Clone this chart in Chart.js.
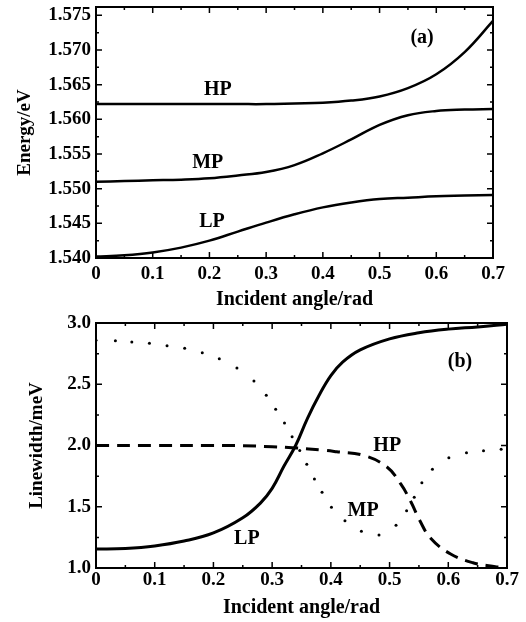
<!DOCTYPE html>
<html>
<head>
<meta charset="utf-8">
<script src="https://cdn.jsdelivr.net/npm/chart.js@4.4.1/dist/chart.umd.min.js"></script>
<style>
  body { margin: 0; background: #fff; }
  canvas { display: block; }
</style>
</head>
<body>
<canvas id="chart-a" width="526" height="310"></canvas>
<canvas id="chart-b" width="526" height="312"></canvas>
<script>
// ticks
const angleTicks = [0, 0.1, 0.2, 0.3, 0.4, 0.5, 0.6, 0.7]
const angleMinor = [0.05, 0.15, 0.25, 0.35, 0.45, 0.55, 0.65]
const energyTicks = [1.540, 1.545, 1.550, 1.555, 1.560, 1.565, 1.570, 1.575]
const energyMinor = [1.5425, 1.5475, 1.5525, 1.5575, 1.5625, 1.5675, 1.5725]
const widthTicks = [1.0, 1.5, 2.0, 2.5, 3.0]
const widthMinor = [1.25, 1.75, 2.25, 2.75]

// (a) energy
const energyAngles = [0, 0.05, 0.1, 0.15, 0.2, 0.25, 0.3, 0.35, 0.4, 0.45, 0.5, 0.55, 0.6, 0.65, 0.7]
const hpEnergy = [1.5622, 1.5622, 1.5622, 1.5622, 1.5622, 1.5622, 1.5622, 1.5623, 1.5624, 1.5627, 1.5633, 1.5645, 1.5665, 1.5697, 1.5742]
const mpEnergy = [1.5510, 1.5511, 1.5512, 1.5513, 1.5515, 1.5519, 1.5524, 1.5534, 1.5551, 1.5571, 1.5592, 1.5606, 1.5612, 1.5614, 1.5615]
const lpEnergy = [1.5402, 1.5404, 1.5408, 1.5415, 1.5425, 1.5438, 1.5451, 1.5463, 1.5473, 1.5480, 1.5485, 1.5487, 1.5489, 1.5490, 1.5491]

// (b) linewidth
const lpAngles = [0, 0.05, 0.1, 0.15, 0.2, 0.25, 0.28, 0.3, 0.32, 0.34, 0.36, 0.38, 0.4, 0.42, 0.45, 0.5, 0.55, 0.6, 0.65, 0.7]
const lpWidth = [1.155, 1.16, 1.18, 1.22, 1.286, 1.41, 1.53, 1.65, 1.83, 2.0, 2.22, 2.41, 2.57, 2.68, 2.78, 2.87, 2.92, 2.95, 2.968, 2.99]
const hpAngles = [0, 0.1, 0.2, 0.25, 0.3, 0.34, 0.385, 0.41, 0.455, 0.495, 0.519, 0.5365, 0.551, 0.57, 0.604, 0.642, 0.68, 0.69]
const hpWidth = [2.0, 2.0, 2.0, 1.998, 1.99, 1.98, 1.963, 1.949, 1.92, 1.827, 1.686, 1.539, 1.392, 1.243, 1.114, 1.043, 1.011, 1.008]
const mpAngles = [0, 0.033, 0.061, 0.091, 0.121, 0.151, 0.181, 0.21, 0.24, 0.269, 0.29, 0.306, 0.321, 0.334, 0.347, 0.359, 0.372, 0.385, 0.401, 0.424, 0.452, 0.482, 0.511, 0.529, 0.542, 0.555, 0.573, 0.601, 0.631, 0.66, 0.69]
const mpWidth = [2.86, 2.856, 2.845, 2.834, 2.815, 2.793, 2.758, 2.709, 2.633, 2.527, 2.41, 2.296, 2.184, 2.072, 1.959, 1.847, 1.727, 1.618, 1.496, 1.386, 1.30, 1.269, 1.349, 1.468, 1.577, 1.696, 1.806, 1.90, 1.941, 1.958, 1.969]

// curve labels [text, x, y]
const labelsA = [['HP', 0.215, 1.5642], ['MP', 0.197, 1.5537], ['LP', 0.2045, 1.5452], ['(a)', 0.575, 1.5718]]
const labelsB = [['(b)', 0.62, 2.68], ['HP', 0.496, 2.0], ['MP', 0.455, 1.465], ['LP', 0.257, 1.237]]

const FONT = '"Liberation Serif", "Times New Roman", serif'

function pts(xs, ys) {
    return xs.map((x, i) => ({x: x, y: ys[i]}))
}

// box + inward ticks + text labels
const framePlugin = {
    id: 'frame',
    afterDatasetsDraw(chart, args, opts) {
        const ctx = chart.ctx
        const a = chart.chartArea
        const sx = chart.scales.x, sy = chart.scales.y
        ctx.save()
        ctx.strokeStyle = '#000'
        ctx.lineWidth = 1.5
        ctx.beginPath()
        const xt = (vals, len) => vals.forEach(v => {
            const p = sx.getPixelForValue(v)
            ctx.moveTo(p, a.bottom); ctx.lineTo(p, a.bottom - len)
            ctx.moveTo(p, a.top); ctx.lineTo(p, a.top + len)
        })
        const yt = (vals, len) => vals.forEach(v => {
            const p = sy.getPixelForValue(v)
            ctx.moveTo(a.left, p); ctx.lineTo(a.left + len, p)
            ctx.moveTo(a.right, p); ctx.lineTo(a.right - len, p)
        })
        xt(opts.xMajor, 6); xt(opts.xMinor, 3)
        yt(opts.yMajor, 6); yt(opts.yMinor, 3)
        ctx.stroke()
        ctx.lineWidth = 2
        ctx.strokeRect(a.left, a.top, a.width, a.height)
        ctx.fillStyle = '#000'
        ctx.font = 'bold 20px ' + FONT
        ctx.textAlign = 'center'
        ctx.textBaseline = 'middle'
        opts.labels.forEach(l => ctx.fillText(l[0], sx.getPixelForValue(l[1]), sy.getPixelForValue(l[2])))
        ctx.restore()
    }
}

function makeChart(id, cfg) {
    return new Chart(document.getElementById(id), {
        type: 'line',
        data: {datasets: cfg.datasets},
        options: {
            responsive: false,
            animation: false,
            devicePixelRatio: 1,
            layout: {padding: cfg.padding},
            plugins: {
                legend: {display: false},
                tooltip: {enabled: false},
                frame: cfg.frame
            },
            elements: {point: {radius: 0}},
            scales: {
                x: {
                    type: 'linear', min: 0, max: 0.7,
                    grid: {display: false, drawTicks: false, tickLength: 0}, border: {display: false},
                    afterBuildTicks: s => { s.ticks = angleTicks.map(v => ({value: v})) },
                    afterFit: s => { s.height = cfg.xHeight; s.paddingLeft = 0; s.paddingRight = 0 },
                    ticks: {color: '#000', padding: cfg.xTickPad, maxRotation: 0, autoSkip: false,
                        font: {family: FONT, size: 19, weight: 'bold'},
                        callback: v => v === 0 ? '0' : v.toFixed(1)},
                    title: {display: true, text: 'Incident angle/rad', color: '#000',
                        font: {family: FONT, size: 20, weight: 'bold', lineHeight: 1}, padding: {top: 0, bottom: cfg.xTitlePad}}
                },
                y: {
                    type: 'linear', min: cfg.yMin, max: cfg.yMax,
                    grid: {display: false, drawTicks: false, tickLength: 0}, border: {display: false},
                    afterBuildTicks: s => { s.ticks = cfg.yTicks.map(v => ({value: v})) },
                    afterFit: s => { s.width = 96; s.paddingTop = 0; s.paddingBottom = 0 },
                    ticks: {color: '#000', padding: 5, autoSkip: false,
                        font: {family: FONT, size: 19, weight: 'bold'},
                        callback: v => v.toFixed(cfg.yDigits)},
                    title: {display: true, text: cfg.yTitle, color: '#000',
                        font: {family: FONT, size: 19, weight: 'bold', lineHeight: 1}, padding: {top: cfg.yTitlePad, bottom: 0}}
                }
            }
        },
        plugins: [framePlugin]
    })
}

const curve = (d, w) => ({data: d, borderColor: '#000', borderWidth: w, fill: false, tension: 0.4})

makeChart('chart-a', {
    datasets: [
        curve(pts(energyAngles, hpEnergy), 2.5),
        curve(pts(energyAngles, mpEnergy), 2.5),
        curve(pts(energyAngles, lpEnergy), 2.5)
    ],
    padding: {left: 0, right: 33, top: 7, bottom: 0},
    xHeight: 52, xTitlePad: 0.5, xTickPad: 5,
    yMin: 1.540, yMax: 1.5762, yTicks: energyTicks, yDigits: 3,
    yTitle: 'Energy/eV', yTitlePad: 15.5,
    frame: {xMajor: angleTicks, xMinor: angleMinor, yMajor: energyTicks, yMinor: energyMinor, labels: labelsA}
})

makeChart('chart-b', {
    datasets: [
        curve(pts(lpAngles, lpWidth), 3),
        Object.assign(curve(pts(hpAngles, hpWidth), 3), {borderDash: [13, 8]}),
        {data: pts(mpAngles, mpWidth), showLine: false, pointRadius: 1.5,
            pointBackgroundColor: '#000', pointBorderWidth: 0}
    ],
    padding: {left: 0, right: 19, top: 13, bottom: 0},
    xHeight: 54, xTitlePad: 4.5, xTickPad: 1,
    yMin: 1.0, yMax: 3.0, yTicks: widthTicks, yDigits: 1,
    yTitle: 'Linewidth/meV', yTitlePad: 27.5,
    frame: {xMajor: angleTicks, xMinor: angleMinor, yMajor: widthTicks, yMinor: widthMinor, labels: labelsB}
})
</script>
</body>
</html>
